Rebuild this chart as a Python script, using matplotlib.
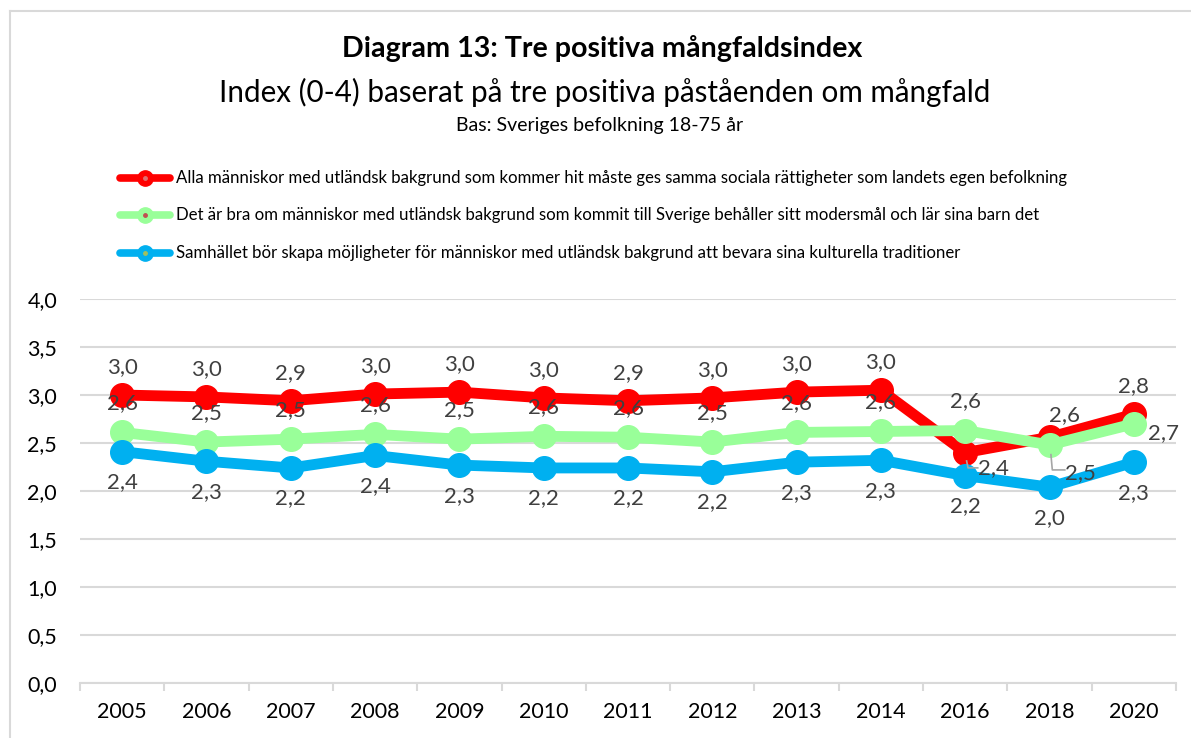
import matplotlib
matplotlib.use("Agg")
import matplotlib.pyplot as plt
from matplotlib.lines import Line2D
from matplotlib.ticker import FixedLocator, FuncFormatter

plt.rcParams['font.family'] = ['Lato', 'DejaVu Sans']

years = ["2005", "2006", "2007", "2008", "2009", "2010", "2011", "2012",
         "2013", "2014", "2016", "2018", "2020"]
rights = [3.00, 2.98, 2.94, 3.01, 3.03, 2.97, 2.94, 2.97, 3.03, 3.05, 2.40, 2.56, 2.80]
language = [2.61, 2.51, 2.54, 2.59, 2.54, 2.57, 2.56, 2.51, 2.61, 2.62, 2.63, 2.48, 2.70]
traditions = [2.41, 2.31, 2.24, 2.37, 2.27, 2.24, 2.24, 2.20, 2.30, 2.32, 2.16, 2.04, 2.30]

labels = [
    "Alla människor med utländsk bakgrund som kommer hit måste ges samma sociala rättigheter som landets egen befolkning",
    "Det är bra om människor med utländsk bakgrund som kommit till Sverige behåller sitt modersmål och lär sina barn det",
    "Samhället bör skapa möjligheter för människor med utländsk bakgrund att bevara sina kulturella traditioner",
]
colors = ["#FF0000", "#99FF99", "#00B0F0"]
dotcolors = ["#E07070", "#C05050", "#A0C060"]

title = "Diagram 13: Tre positiva mångfaldsindex"
subtitle = "Index (0-4) baserat på tre positiva påståenden om mångfald"
subsub = "Bas: Sveriges befolkning 18-75 år"

W, H = 1191, 738
fig = plt.figure(figsize=(W / 100, H / 100), dpi=100)
fig.patch.set_facecolor("white")

def fx(px):
    return px / W

def fy(py):
    return 1 - py / H

# chart border
fig.add_artist(Line2D([fx(10), fx(10)], [fy(11), fy(740)], color="#D9D9D9", lw=1.5))
fig.add_artist(Line2D([fx(10), fx(1195)], [fy(11), fy(11)], color="#D9D9D9", lw=1.5))

ax = fig.add_axes([fx(80), fy(683), fx(1176) - fx(80), fy(299) - fy(683)])
n = len(years)
xs = list(range(n))
ax.set_xlim(-0.5, n - 0.5)
ax.set_ylim(0, 4.0)
ax.yaxis.set_major_locator(FixedLocator([i * 0.5 for i in range(9)]))
ax.yaxis.set_major_formatter(FuncFormatter(lambda v, p: f"{v:.1f}".replace(".", ",")))
ax.grid(axis="y", color="#D9D9D9", lw=1.5)
ax.set_axisbelow(True)
for s in ["top", "right", "left"]:
    ax.spines[s].set_visible(False)
ax.spines["bottom"].set_color("#D9D9D9")
ax.spines["bottom"].set_linewidth(1.5)
ax.set_xticks(xs)
ax.set_xticklabels(years)
ax.set_xticks([i - 0.5 for i in range(n + 1)], minor=True)
ax.tick_params(axis="x", which="major", length=0, pad=14, labelsize=15.5)
ax.tick_params(axis="x", which="minor", length=6, width=1.5, color="#D9D9D9")
ax.tick_params(axis="y", length=0, pad=16.5, labelsize=15.5)
for t in ax.get_xticklabels() + ax.get_yticklabels():
    t.set_color("#000000")

series = [rights, language, traditions]
for vals, c in zip(series, colors):
    ax.plot(xs, vals, color=c, lw=7.8, marker="o", ms=17, solid_capstyle="round",
            solid_joinstyle="round", zorder=3)

def fmt(v):
    return f"{v:.1f}".replace(".", ",")

lab_color = "#404040"
lab_fs = 16
# default label offsets in points (dx, dy)
offs = [(0, 20), (0, 21), (0, -22)]
special = {
    (0, 10): (20, -11),
    (0, 11): (11, 16),
    (1, 11): (22, -20),
    (1, 12): (21, -7),
}
for si, vals in enumerate(series):
    for i, v in enumerate(vals):
        dx, dy = special.get((si, i), offs[si])
        ax.annotate(fmt(v), (i, v), xytext=(dx, dy), textcoords="offset points",
                    ha="center", va="center", fontsize=lab_fs, color=lab_color, zorder=5)

# leader lines (in points offset from data point)
fig.canvas.draw()
def leader(si, i, pts):
    x0, y0 = ax.transData.transform((i, series[si][i]))
    xsf, ysf = [], []
    for dx, dy in pts:
        px = x0 + dx * 100 / 72
        py = y0 + dy * 100 / 72
        X, Y = fig.transFigure.inverted().transform((px, py))
        xsf.append(X)
        ysf.append(Y)
    fig.add_artist(Line2D(xsf, ysf, color="#A6A6A6", lw=1.2, zorder=6))

leader(0, 10, [(1, -6), (2, -11), (9, -11)])
leader(1, 11, [(1, -7), (2, -18), (11, -18)])

# titles
fig.text(fx(602), fy(48), title, ha="center", va="center", fontsize=20.6, fontweight="bold", color="#000000")
fig.text(fx(605), fy(92), subtitle, ha="center", va="center", fontsize=21.3, color="#000000")
fig.text(fx(600), fy(125), subsub, ha="center", va="center", fontsize=14, color="#000000")

# legend
leg_y = [178, 215, 253]
for lab, c, dc, yy in zip(labels, colors, dotcolors, leg_y):
    fig.add_artist(Line2D([fx(120), fx(170)], [fy(yy), fy(yy)], color=c, lw=5.5,
                          solid_capstyle="round"))
    fig.add_artist(Line2D([fx(145)], [fy(yy)], color=c, marker="o", ms=11, lw=0))
    fig.add_artist(Line2D([fx(145)], [fy(yy)], color=dc, marker="o", ms=2.5, lw=0))
    fig.text(fx(176), fy(yy), lab, ha="left", va="center", fontsize=12.1, color="#000000")

fig.savefig("out.png", dpi=100)
